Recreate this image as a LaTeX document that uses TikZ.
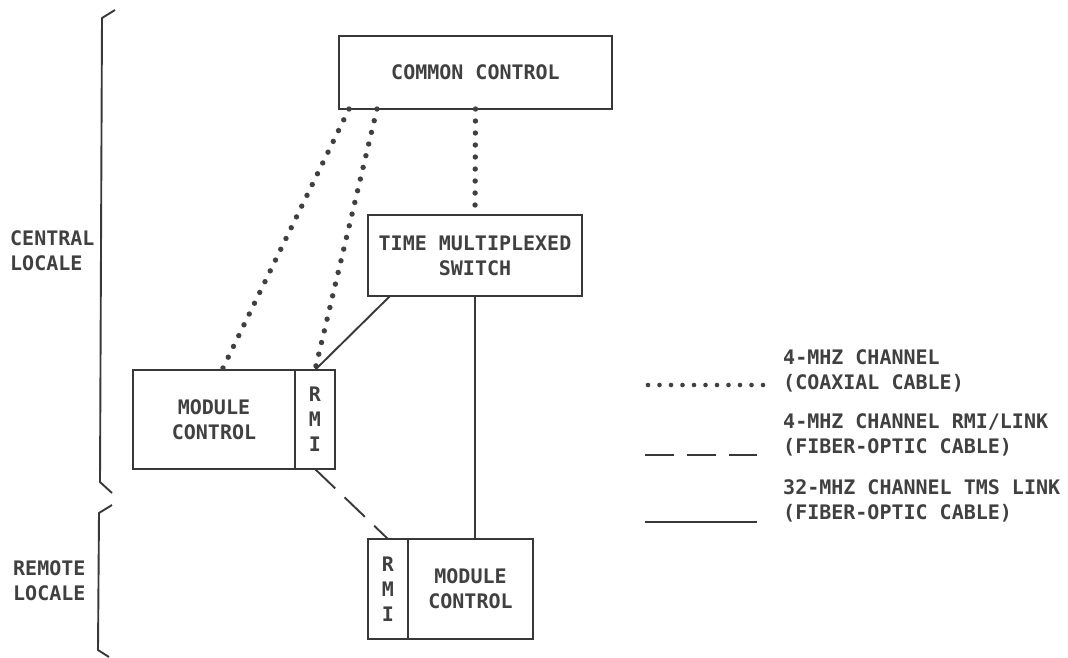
\documentclass[tikz,border=0pt]{standalone}
\usepackage{fontspec}
\newfontfamily\plotter{DejaVu Sans Mono}
\begin{document}
\begin{tikzpicture}[x=1pt,y=-1pt,
  ink/.style={draw=black!78,line width=1.9pt},
  box/.style={ink,rectangle,inner sep=0pt,outer sep=0pt,align=center,text=black!75},
  label/.style={inner sep=0pt,align=left,anchor=west,text=black!75},
  coax/.style={draw=black!75,line width=5.4pt,line cap=round,dash pattern=on 0pt off 12pt},
  fiber/.style={ink,dash pattern=on 28pt off 13pt},
  tms link/.style={ink},
  every node/.append style={font=\plotter\bfseries\fontsize{20}{25}\selectfont}]
\useasboundingbox (0,0) rectangle (1068,657);

% equipment blocks
\node[box,minimum width=273pt,minimum height=73pt] (cc) at (475.5,72.5) {COMMON CONTROL};
\node[box,minimum width=214pt,minimum height=81pt] (tms) at (475,255.5) {TIME MULTIPLEXED\\SWITCH};
\node[box,minimum width=162pt,minimum height=99pt] (mc) at (214,419.5) {MODULE\\CONTROL};
\node[box,minimum width=40pt,minimum height=99pt] (rmi) at (315,419.5) {R\\M\\I};
\node[box,minimum width=40pt,minimum height=100pt] (rmir) at (388,589) {R\\M\\I};
\node[box,minimum width=125pt,minimum height=100pt] (mcr) at (470.5,589) {MODULE\\CONTROL};

% links
\draw[coax] ([xshift=10pt]cc.south west) -- ([xshift=89pt]mc.north west);
\draw[coax] ([xshift=38pt]cc.south west) -- (rmi.north);
\draw[coax] (cc.south) -- (tms.north);
\draw[tms link] ([xshift=22pt]tms.south west) -- (rmi.north);
\draw[tms link] (tms.south) -- (tms.south |- mcr.north);
\draw[fiber] (rmi.south) -- (rmir.north);

% locale brackets
\draw[ink] (115,10) -- (102,18) -- (100,482) -- (112,493);
\draw[ink] (112,505) -- (99,513) -- (98,650) -- (109,657);
\node[label] (central) at (10,251) {CENTRAL\\LOCALE};
\node[label] (remote) at (13,581) {REMOTE\\LOCALE};

% legend
\coordinate (k1a) at (648,385); \coordinate (k1b) at (763,385);
\coordinate (k2a) at (645,455); \coordinate (k2b) at (757,455);
\coordinate (k3a) at (645,522); \coordinate (k3b) at (757,522);
\draw[coax,line width=4.6pt,dash pattern=on 0pt off 11.5pt] (k1a) -- (k1b);
\draw[fiber,dash pattern=on 29pt off 13pt] (k2a) -- (k2b);
\draw[tms link] (k3a) -- (k3b);
\node[label] (t1) at (783,371) {4-MHZ CHANNEL\\(COAXIAL CABLE)};
\node[label] (t2) at (783,435) {4-MHZ CHANNEL RMI/LINK\\(FIBER-OPTIC CABLE)};
\node[label] (t3) at (783,501) {32-MHZ CHANNEL TMS LINK\\(FIBER-OPTIC CABLE)};
\end{tikzpicture}
\end{document}
